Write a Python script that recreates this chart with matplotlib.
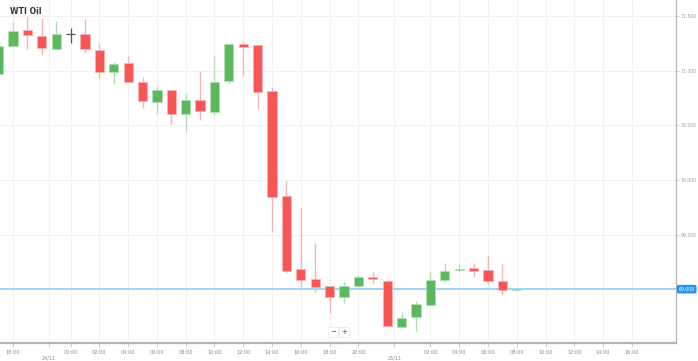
import matplotlib
matplotlib.use('Agg')
import matplotlib.pyplot as plt

# hourly candles, WTI Oil
opens  = [70.969, 71.224, 71.370, 71.315, 71.197, 71.333, 71.333, 71.188, 70.987, 71.069,
          70.896, 70.714, 70.823, 70.605, 70.732, 70.623, 70.905, 71.242, 71.233, 70.814,
          69.858, 69.193, 69.102, 69.038, 68.938, 69.038, 69.120, 69.084, 68.665, 68.756,
          68.865, 69.093, 69.184, 69.202, 69.184, 69.084, 69.002]
closes = [71.224, 71.361, 71.324, 71.206, 71.333, 71.333, 71.197, 70.987, 71.060, 70.896,
          70.723, 70.823, 70.605, 70.732, 70.632, 70.896, 71.242, 71.215, 70.805, 69.849,
          69.175, 69.093, 69.029, 68.938, 69.038, 69.120, 69.102, 68.674, 68.747, 68.874,
          69.093, 69.175, 69.193, 69.175, 69.084, 69.002, 69.011]
highs  = [71.240, 71.443, 71.488, 71.479, 71.452, 71.388, 71.470, 71.242, 71.078, 71.133,
          70.942, 70.860, 70.823, 70.796, 70.996, 71.133, 71.242, 71.270, 71.233, 70.851,
          69.995, 69.749, 69.430, 69.038, 69.084, 69.138, 69.166, 69.102, 68.801, 68.902,
          69.175, 69.248, 69.248, 69.248, 69.321, 69.239, 69.011]
lows   = [70.950, 71.224, 71.197, 71.142, 71.197, 71.251, 71.160, 70.933, 70.878, 70.896,
          70.659, 70.605, 70.514, 70.450, 70.550, 70.596, 70.887, 70.951, 70.650, 69.530,
          69.157, 69.029, 68.984, 68.792, 68.883, 69.038, 69.066, 68.674, 68.665, 68.628,
          68.865, 69.075, 69.166, 69.120, 69.056, 68.956, 69.002]

last_price = 69.009
y_ticks = [69.5, 70.0, 70.5, 71.0, 71.5]
y_labels = ['69.500', '70.000', '70.500', '71.000', '71.500']

x_tick_pos = [1, 3.5, 5, 7, 9, 11, 13, 15, 17, 19, 21, 23, 25, 27.5, 30, 32, 34, 36, 38, 40, 42, 44]
x_tick_lab = ['18:00', '\n24/11', '00:00', '02:00', '04:00', '06:00', '08:00', '10:00', '12:00',
              '14:00', '16:00', '18:00', '20:00', '\n25/11', '02:00', '04:00', '06:00', '08:00',
              '10:00', '12:00', '14:00', '16:00']

red = '#f85656'
green = '#5cb85c'
red_wick = '#f9b4b4'
green_wick = '#b3deb3'

fig = plt.figure(figsize=(6.98, 3.61), dpi=100)
ax = fig.add_axes([0, 18 / 361, 676 / 698, 343 / 361])

xs = list(range(len(opens)))
for i in xs:
    o, c, h, l = opens[i], closes[i], highs[i], lows[i]
    if o == c:
        ax.vlines(i, l, h, color='#555555', lw=0.9, zorder=3)
        ax.hlines(o, i - 0.32, i + 0.32, color='#555555', lw=0.9, zorder=3)
        continue
    up = c > o
    col = green if up else red
    wcol = green_wick if up else red_wick
    ax.vlines(i, l, h, color=wcol, lw=1.0, zorder=2)
    bottom = min(o, c)
    height = max(abs(c - o), 0.012)
    ax.bar(i, height, bottom=bottom, width=0.64, color=col,
           edgecolor=wcol, linewidth=0.5, zorder=3)

ax.axhline(last_price, color='#9ccff2', lw=1.3, zorder=1)

ax.set_xlim(0.1, 47.06)
ax.set_ylim(68.519, 71.643)

ax.set_xticks(x_tick_pos)
ax.set_xticklabels(x_tick_lab, fontsize=3.6, color='#888888')
ax.set_yticks(y_ticks)
ax.set_yticklabels(y_labels, fontsize=3.3, color='#999999')
ax.yaxis.tick_right()
ax.tick_params(axis='y', length=2, width=0.5, color='#bbbbbb', pad=1.5)
ax.tick_params(axis='x', length=3, width=0.5, color='#bbbbbb', pad=2)

ax.grid(True, color='#f1f1f1', lw=0.8, zorder=0)
ax.set_axisbelow(True)

for s in ['top', 'left']:
    ax.spines[s].set_visible(False)
ax.spines['bottom'].set_color('#b5b5b5')
ax.spines['bottom'].set_linewidth(1.6)
ax.spines['right'].set_color('#b5b5b5')
ax.spines['right'].set_linewidth(0.9)

# current price label
ax.text(1.004, last_price, '69.009', transform=ax.get_yaxis_transform(),
        fontsize=3.3, color='white', va='center', ha='left',
        bbox=dict(boxstyle='round,pad=0.25', fc='#2196f3', ec='#2196f3'), zorder=5)

fig.text(10 / 698, 1 - 11 / 361, 'WTI Oil', fontsize=5.6, fontweight='bold',
         color='#333333', va='center', ha='left')

# zoom buttons
for label, xp in [('\u2212', 333), ('+', 344)]:
    fig.text(xp / 698, 1 - 332 / 361, label, fontsize=5, color='#444444',
             ha='center', va='center',
             bbox=dict(boxstyle='square,pad=0.35', fc='white', ec='#e6e6e6', lw=0.5))

fig.savefig('out.png', dpi=100)
